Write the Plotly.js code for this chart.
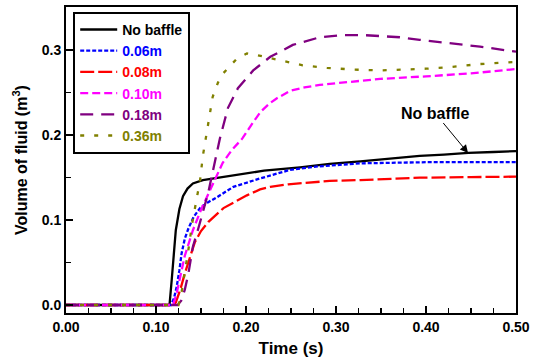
<!DOCTYPE html>
<html>
<head>
<meta charset="utf-8">
<script src="https://cdn.plot.ly/plotly-3.0.1.min.js"></script>
<style>html,body{margin:0;padding:0;background:#fff;}#chart{width:533px;height:363px;}</style>
</head>
<body>
<div id="chart"></div>
<script>
// Series names
const seriesNames = ["No baffle", "0.06m", "0.08m", "0.10m", "0.18m", "0.36m"];

// No baffle
const tNoBaffle = [0, 0.115, 0.1175, 0.1203, 0.122, 0.126, 0.130, 0.135, 0.141, 0.152, 0.170, 0.193, 0.220, 0.260, 0.293, 0.327, 0.360, 0.393, 0.420, 0.447, 0.475, 0.5];
const vNoBaffle = [0, 0, 0.030, 0.065, 0.088, 0.113, 0.128, 0.137, 0.143, 0.147, 0.150, 0.154, 0.158, 0.162, 0.166, 0.169, 0.172, 0.1755, 0.177, 0.179, 0.180, 0.181];

// 0.06m
const t006 = [0, 0.1165, 0.120, 0.123, 0.126, 0.1285, 0.132, 0.136, 0.142, 0.149, 0.158, 0.168, 0.186, 0.200, 0.216, 0.249, 0.280, 0.327, 0.360, 0.400, 0.450, 0.5];
const v006 = [0, 0, 0.008, 0.0215, 0.041, 0.061, 0.078, 0.090, 0.104, 0.114, 0.121, 0.127, 0.139, 0.144, 0.149, 0.159, 0.163, 0.1667, 0.1675, 0.168, 0.168, 0.168];

// 0.08m
const t008 = [0, 0.118, 0.122, 0.127, 0.132, 0.138, 0.143, 0.150, 0.158, 0.175, 0.201, 0.2156, 0.227, 0.247, 0.260, 0.293, 0.327, 0.393, 0.45, 0.5];
const v008 = [0, 0, 0.003, 0.018, 0.037, 0.057, 0.0735, 0.087, 0.0976, 0.114, 0.129, 0.136, 0.139, 0.142, 0.143, 0.146, 0.147, 0.1498, 0.1505, 0.151];

// 0.10m
const t010 = [0, 0.119, 0.123, 0.132, 0.141, 0.150, 0.160, 0.174, 0.184, 0.196, 0.206, 0.216, 0.226, 0.234, 0.249, 0.265, 0.282, 0.323, 0.349, 0.400, 0.450, 0.5];
const v010 = [0, 0, 0.014, 0.058, 0.088, 0.112, 0.135, 0.167, 0.182, 0.196, 0.212, 0.227, 0.237, 0.243, 0.252, 0.256, 0.259, 0.2635, 0.266, 0.269, 0.2725, 0.2776];

// 0.18m
const t018 = [0, 0.124, 0.128, 0.132, 0.136, 0.141, 0.147, 0.158, 0.171, 0.180, 0.191, 0.208, 0.227, 0.252, 0.282, 0.308, 0.330, 0.349, 0.371, 0.393, 0.427, 0.460, 0.5];
const v018 = [0, 0, 0.005, 0.018, 0.037, 0.0686, 0.090, 0.132, 0.196, 0.232, 0.255, 0.276, 0.292, 0.306, 0.315, 0.3176, 0.3176, 0.316, 0.315, 0.312, 0.308, 0.304, 0.298];

// 0.36m
const t036 = [0, 0.125, 0.1285, 0.132, 0.136, 0.140, 0.144, 0.149, 0.152, 0.158, 0.163, 0.169, 0.175, 0.190, 0.201, 0.212, 0.238, 0.263, 0.290, 0.319, 0.349, 0.371, 0.400, 0.427, 0.460, 0.5];
const v036 = [0, 0, 0.0157, 0.037, 0.065, 0.095, 0.118, 0.147, 0.175, 0.215, 0.245, 0.262, 0.273, 0.290, 0.296, 0.294, 0.288, 0.282, 0.279, 0.277, 0.276, 0.2765, 0.278, 0.280, 0.2835, 0.286];

// Axis ticks
const xTickVals = [0, 0.1, 0.2, 0.3, 0.4, 0.5];
const xTickText = ["0.00", "0.10", "0.20", "0.30", "0.40", "0.50"];
const yTickVals = [0, 0.1, 0.2, 0.3];
const yTickText = ["0.0", "0.1", "0.2", "0.3"];

const colors = ["#000000", "#0000FF", "#FF0000", "#FF00FF", "#800080", "#808000"];
const dashes = ["solid", "4px,2px", "14px,4px", "8px,4px", "13px,8px", "4px,10px"];
const xs = [tNoBaffle, t006, t008, t010, t018, t036];
const ys = [vNoBaffle, v006, v008, v010, v018, v036];

const traces = xs.map((x, i) => ({
  x: x, y: ys[i], type: "scatter", mode: "lines",
  name: '<span style="color:' + colors[i] + '">' + seriesNames[i] + '</span>',
  line: {color: colors[i], width: 2.3, dash: dashes[i]}
}));

const FONT = "Liberation Sans, Arial, sans-serif";

const layout = {
  width: 533, height: 363,
  margin: {l: 66, r: 17, t: 7, b: 50},
  paper_bgcolor: "#fff", plot_bgcolor: "#fff",
  font: {family: FONT, size: 14, color: "#000", weight: "bold"},
  showlegend: true,
  legend: {
    x: 0.016, y: 0.984, xanchor: "left", yanchor: "top",
    bgcolor: "#fff", bordercolor: "#000", borderwidth: 2,
    font: {family: FONT, size: 14, weight: "bold"},
    itemwidth: 37,
    tracegroupgap: 0
  },
  xaxis: {
    range: [0, 0.5], tickvals: xTickVals, ticktext: xTickText,
    ticks: "inside", ticklen: 7, tickwidth: 1.5, tickcolor: "#000",
    minor: {dtick: 0.025, ticks: "inside", ticklen: 5, tickwidth: 1.5, tickcolor: "#000", showgrid: false},
    showline: true, linecolor: "#000", linewidth: 2, mirror: true,
    showgrid: false, zeroline: false,
    tickfont: {family: FONT, size: 14, weight: "bold"},
    title: {text: "Time (s)", font: {family: FONT, size: 17, weight: "bold"}, standoff: 8}
  },
  yaxis: {
    range: [-0.0094, 0.3506], tickvals: yTickVals, ticktext: yTickText,
    ticks: "inside", ticklen: 7, tickwidth: 1.5, tickcolor: "#000",
    minor: {dtick: 0.05, tick0: 0, ticks: "inside", ticklen: 5, tickwidth: 1.5, tickcolor: "#000", showgrid: false},
    showline: true, linecolor: "#000", linewidth: 2, mirror: true,
    showgrid: false, zeroline: false,
    tickfont: {family: FONT, size: 14, weight: "bold"},
    title: {text: "Volume of fluid (m<sup>3</sup>)", font: {family: FONT, size: 16, weight: "bold"}, standoff: 10}
  },
  annotations: [{
    x: 0.4467, y: 0.1788, xref: "x", yref: "y",
    text: "No baffle", showarrow: true,
    ax: -33, ay: -40, arrowhead: 2, arrowsize: 1.6, arrowwidth: 1, arrowcolor: "#000",
    font: {family: FONT, size: 16, weight: "bold", color: "#000"}
  }]
};

Plotly.newPlot("chart", traces, layout, {displayModeBar: false, staticPlot: true});
</script>
</body>
</html>
